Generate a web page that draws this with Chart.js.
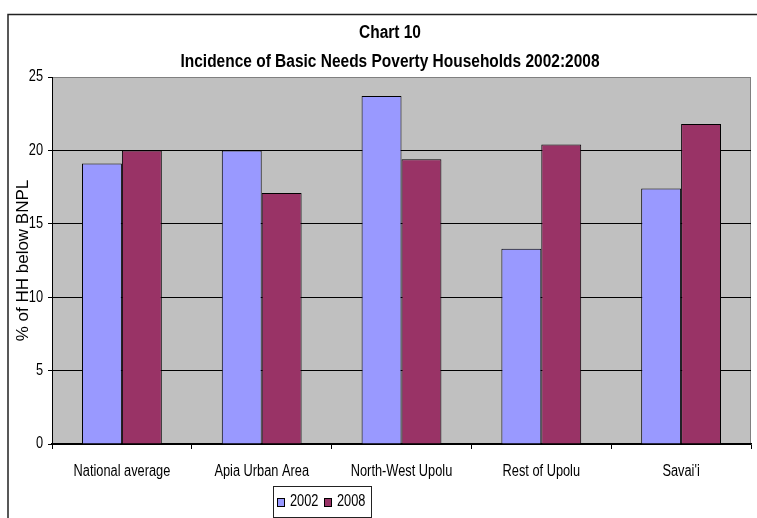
<!DOCTYPE html>
<html>
<head>
<meta charset="utf-8">
<script src="https://cdn.jsdelivr.net/npm/chart.js@4"></script>
<style>
  html, body { margin: 0; padding: 0; background: #ffffff; }
  #wrap { width: 757px; height: 518px; position: relative; }
</style>
</head>
<body>
<div id="wrap"><canvas id="c" width="757" height="518"></canvas></div>
<script>
// Regions and incidence values (% of households below the basic needs poverty line)
const regions = ["National average", "Apia Urban Area", "North-West Upolu", "Rest of Upolu", "Savai'i"];
const years = ["2002", "2008"];
const values2002 = [19.1, 20.0, 23.7, 13.3, 17.4];
const values2008 = [20.0, 17.1, 19.4, 20.4, 21.8];
const yTicks = [0, 5, 10, 15, 20, 25];
const titleLines = ["Chart 10", "Incidence of Basic Needs Poverty Households 2002:2008"];
const yTitle = "% of HH below BNPL";

// "Cond80"/"Cond86" are placeholder family names that fall back to Liberation Sans;
// text set in them is drawn horizontally compressed to imitate a narrow typeface.
const COND = "Cond80, 'Liberation Sans', Arial, sans-serif";
const COND_BOLD = "Cond86, 'Liberation Sans', Arial, sans-serif";
const REGULAR = "'Liberation Sans', Arial, sans-serif";
const colors = ["#9999FF", "#993366"];

function installCondensedText(ctx) {
  if (ctx.__condensed) return;
  ctx.__condensed = true;
  const origFill = ctx.fillText;
  ctx.fillText = function (text, x, y, maxWidth) {
    const f = this.font;
    let k = 1;
    if (f.indexOf('Cond80') >= 0) k = 0.8;
    else if (f.indexOf('Cond86') >= 0) k = 0.86;
    if (k === 1) return origFill.apply(this, arguments);
    this.save();
    this.translate(x, y);
    this.scale(k, 1);
    if (maxWidth !== undefined) origFill.call(this, text, 0, 0, maxWidth / k);
    else origFill.call(this, text, 0, 0);
    this.restore();
  };
}

// Frame, plot background, titles and legend box
const decor = {
  id: 'decor',
  beforeInit(chart) { installCondensedText(chart.ctx); },
  beforeDraw(chart) {
    const ctx = chart.ctx;
    const a = chart.chartArea;
    ctx.save();
    ctx.fillStyle = '#ffffff';
    ctx.fillRect(0, 0, chart.width, chart.height);
    // outer chart border
    ctx.strokeStyle = '#222222';
    ctx.lineWidth = 1.5;
    ctx.strokeRect(8, 14.5, 800, 600);
    // plot area
    ctx.fillStyle = '#C0C0C0';
    ctx.fillRect(a.left, a.top, a.right - a.left, a.bottom - a.top);
    ctx.strokeStyle = '#808080';
    ctx.lineWidth = 1;
    ctx.strokeRect(a.left + 0.5, a.top + 0.5, a.right - a.left - 1, a.bottom - a.top);
    ctx.restore();
  },
  afterDraw(chart) {
    const ctx = chart.ctx;
    ctx.save();
    // titles
    ctx.fillStyle = '#000000';
    ctx.textAlign = 'center';
    ctx.textBaseline = 'alphabetic';
    ctx.font = "bold 18px " + COND_BOLD;
    ctx.fillText(titleLines[0], 390, 38);
    ctx.fillText(titleLines[1], 390, 67);
    // legend
    const lx = 273, ly = 486, lw = 98, lh = 31;
    ctx.strokeStyle = '#222222';
    ctx.lineWidth = 1;
    ctx.strokeRect(lx + 0.5, ly + 0.5, lw, lh);
    ctx.font = "16px " + COND;
    ctx.textAlign = 'left';
    ctx.textBaseline = 'middle';
    const xs = [277, 324];
    chart.data.datasets.forEach((ds, i) => {
      const x = xs[i];
      ctx.fillStyle = ds.backgroundColor;
      ctx.fillRect(x, 498, 8, 9);
      ctx.strokeStyle = '#000000';
      ctx.strokeRect(x + 0.5, 498.5, 7, 8);
      ctx.fillStyle = '#000000';
      ctx.fillText(ds.label, x + 13, 502);
    });
    ctx.restore();
  }
};

new Chart(document.getElementById('c'), {
  type: 'bar',
  data: {
    labels: regions,
    datasets: [
      { label: years[0], data: values2002, backgroundColor: colors[0], borderColor: '#000000', borderWidth: 1,
        categoryPercentage: 0.571, barPercentage: 1.0 },
      { label: years[1], data: values2008, backgroundColor: colors[1], borderColor: '#000000', borderWidth: 1,
        categoryPercentage: 0.571, barPercentage: 1.0 }
    ]
  },
  options: {
    responsive: false,
    animation: false,
    devicePixelRatio: 1,
    layout: { padding: { left: 0, right: 6, top: 77, bottom: 0 } },
    plugins: {
      legend: { display: false },
      title: { display: false },
      tooltip: { enabled: false }
    },
    scales: {
      x: {
        offset: true,
        grid: { display: true, offset: true, drawOnChartArea: false, color: '#000000', tickLength: 5, lineWidth: 1 },
        border: { display: true, color: '#000000', width: 1.5 },
        ticks: { color: '#000000', font: { family: COND, size: 16 }, padding: 13, maxRotation: 0, autoSkip: false },
        afterFit(scale) { scale.height = 74; scale.paddingLeft = 0; scale.paddingRight = 0; }
      },
      y: {
        min: 0, max: 25,
        afterBuildTicks(scale) { scale.ticks = yTicks.map(v => ({ value: v })); },
        grid: {
          color: ctx => (ctx.tick && ctx.tick.value === 25) ? '#808080' : '#000000',
          tickColor: '#000000',
          tickLength: 4, lineWidth: 1
        },
        border: { display: true, color: '#000000', width: 1 },
        ticks: { color: '#000000', font: { family: COND, size: 16 }, padding: 5 },
        title: { display: true, text: yTitle, color: '#000000', font: { family: REGULAR, size: 17 }, padding: { top: 13, bottom: 0 } },
        afterFit(scale) { scale.width = 52; scale.paddingTop = 0; scale.paddingBottom = 0; }
      }
    }
  },
  plugins: [decor]
});
</script>
</body>
</html>
